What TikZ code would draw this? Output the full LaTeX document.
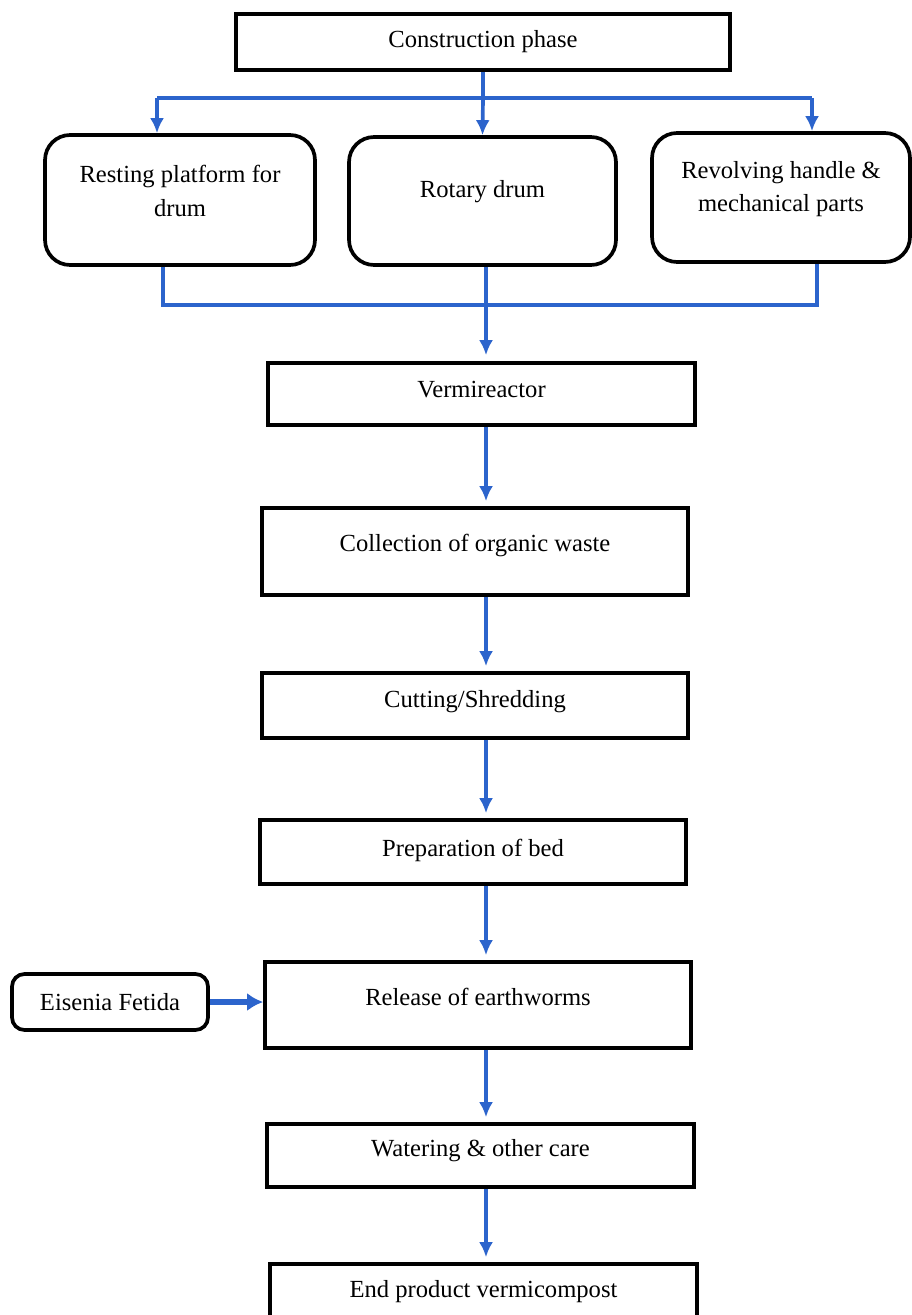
\documentclass[tikz,border=0pt]{standalone}
\usepackage{fontspec}
\setmainfont{Liberation Serif}
\usetikzlibrary{arrows.meta}
\definecolor{flowblue}{RGB}{44,100,204}

\begin{document}
\begin{tikzpicture}[x=0.02cm,y=-0.02cm,font=\fontsize{14}{19}\selectfont,
    box/.style={draw,line width=2.1pt,inner sep=0pt},
    rbox/.style={box,rounded corners=0.5cm},
    txt/.style={align=center,yshift=#1},
    flow/.style={draw=flowblue,line width=2.1pt},
    arr/.style={flow,-{Latex[length=0.3cm,width=0.28cm]}}]
  \path[use as bounding box,clip] (0,0) rectangle (912,1315);
  % construction stage
  \node[box,minimum width=9.88cm,minimum height=1.12cm,label={[txt=0cm]center:Construction phase}] (cons) at (483,42) {};
  \node[rbox,minimum width=5.4cm,minimum height=2.6cm,label={[txt=0.18cm]center:Resting platform for\\drum}] (rest) at (180,200) {};
  \node[rbox,minimum width=5.34cm,minimum height=2.56cm,label={[txt=0.18cm]center:Rotary drum}] (rot) at (482.5,201) {};
  \node[rbox,minimum width=5.16cm,minimum height=2.58cm,label={[txt=0.17cm]center:Revolving handle \&\\mechanical parts}] (rev) at (781,197.5) {};
  % process steps
  \node[box,minimum width=8.54cm,minimum height=1.24cm,label={[txt=0.08cm]center:Vermireactor}] (vr) at (481.5,394) {};
  \node[box,minimum width=8.52cm,minimum height=1.74cm,label={[txt=0.13cm]center:Collection of organic waste}] (coll) at (475,551.5) {};
  \node[box,minimum width=8.52cm,minimum height=1.3cm,label={[txt=0.07cm]center:Cutting/Shredding}] (cut) at (475,705.5) {};
  \node[box,minimum width=8.52cm,minimum height=1.28cm,label={[txt=0.04cm]center:Preparation of bed}] (bed) at (473,852) {};
  \node[box,minimum width=8.52cm,minimum height=1.72cm,label={[txt=0.16cm]center:Release of earthworms}] (rel) at (478,1005) {};
  \node[rbox,rounded corners=0.25cm,minimum width=3.92cm,minimum height=1.12cm,label={[txt=0cm]center:Eisenia Fetida}] (eis) at (110,1002) {};
  \node[box,minimum width=8.54cm,minimum height=1.26cm,label={[txt=0.09cm]center:Watering \& other care}] (wat) at (480.5,1155.5) {};
  \node[box,minimum width=8.54cm,minimum height=1.32cm,label={[txt=0.1cm]center:End product vermicompost}] (end) at (483.5,1297) {};

  % split into the three parts
  \coordinate (split) at (483,98);
  \coordinate (splitl) at (157,98);
  \coordinate (splitr) at (812,98);
  \draw[flow] (cons.south) -- (split);
  \draw[flow] (splitl) -- (splitr);
  \draw[arr] (splitl) -- (splitl |- rest.north);
  \draw[arr] (split) -- (rot.north);
  \draw[arr] (splitr) -- (splitr |- rev.north);
  % join back into the reactor
  \coordinate (joinl) at (163,305);
  \coordinate (joinr) at (817,305);
  \coordinate (spine) at (486,0);
  \draw[flow] (joinl |- rest.south) -- (joinl) -- (joinr) -- (joinr |- rev.south);
  \draw[arr,shorten >=0.12cm] (rot.south -| spine) -- (vr.north -| spine);
  \foreach \a/\b in {vr/coll,coll/cut,cut/bed,bed/rel,rel/wat,wat/end}
    \draw[arr,shorten >=0.1cm] (\a.south -| spine) -- (\b.north -| spine);
  \draw[flow,line width=3pt,-{Latex[length=0.32cm,width=0.36cm]}] (eis.east) -- (eis.east -| rel.west);
\end{tikzpicture}
\end{document}
